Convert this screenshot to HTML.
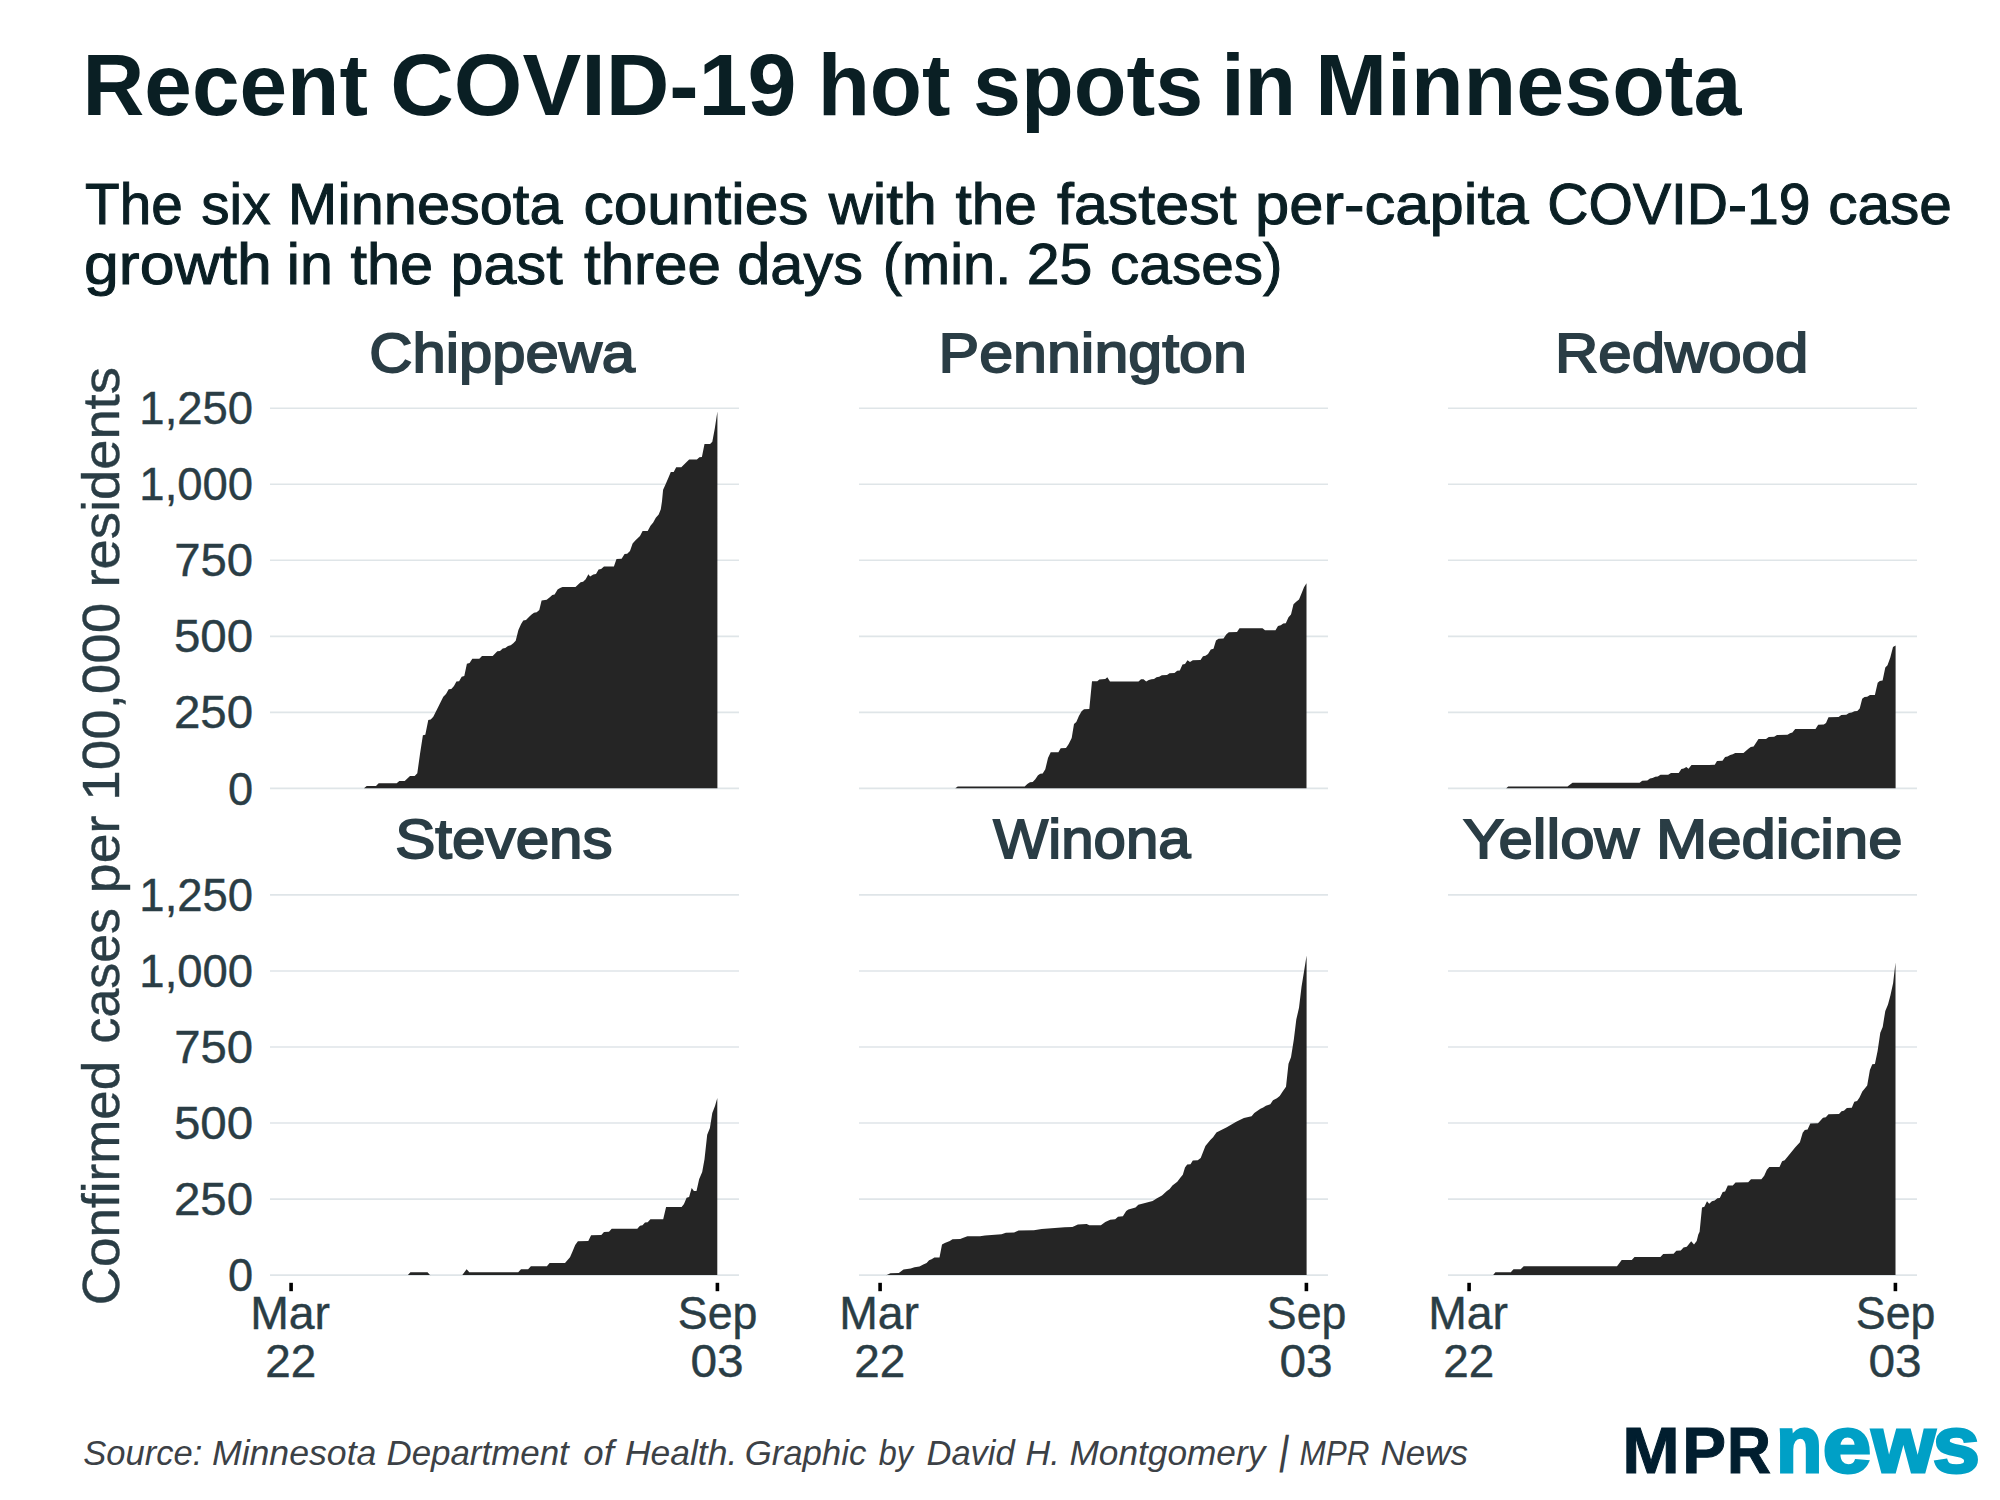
<!DOCTYPE html>
<html lang="en"><head><meta charset="utf-8"><title>Recent COVID-19 hot spots in Minnesota</title>
<style>html,body{margin:0;padding:0;background:#fff}svg{display:block}text{font-family:"Liberation Sans", sans-serif}</style></head><body>
<svg width="2000" height="1500" viewBox="0 0 2000 1500">
<rect width="2000" height="1500" fill="#fff"/>
<line x1="270" x2="739" y1="788.40" y2="788.40" stroke="#dfe5e8" stroke-width="1.6"/>
<line x1="270" x2="739" y1="712.37" y2="712.37" stroke="#dfe5e8" stroke-width="1.6"/>
<line x1="270" x2="739" y1="636.34" y2="636.34" stroke="#dfe5e8" stroke-width="1.6"/>
<line x1="270" x2="739" y1="560.31" y2="560.31" stroke="#dfe5e8" stroke-width="1.6"/>
<line x1="270" x2="739" y1="484.28" y2="484.28" stroke="#dfe5e8" stroke-width="1.6"/>
<line x1="270" x2="739" y1="408.25" y2="408.25" stroke="#dfe5e8" stroke-width="1.6"/>
<path d="M364.0,788.3 L364.0,788.3 L366.7,786.0 L376.0,786.0 L378.7,783.3 L396.7,783.3 L399.3,780.9 L404.7,780.9 L410.0,776.0 L414.7,776.0 L417.3,773.3 L420.0,754.0 L422.9,735.3 L425.3,734.7 L428.3,720.0 L430.7,719.6 L433.3,716.7 L438.7,706.0 L443.3,696.7 L446.0,694.0 L448.7,689.3 L451.3,688.9 L454.0,686.0 L456.4,681.6 L459.1,681.3 L461.7,676.7 L464.3,676.0 L466.9,663.7 L469.6,663.1 L472.3,658.7 L479.3,658.7 L482.0,656.0 L492.7,656.0 L497.3,651.3 L500.0,650.9 L502.7,648.4 L505.3,648.0 L508.0,646.0 L510.7,645.3 L513.3,643.3 L515.7,640.7 L518.4,630.0 L521.1,624.0 L523.3,620.4 L526.0,620.0 L528.7,617.3 L531.3,614.7 L534.0,612.7 L536.7,612.3 L539.3,610.0 L541.6,600.4 L546.7,599.7 L549.8,597.2 L552.3,595.0 L554.6,594.6 L557.6,589.6 L560.1,588.1 L562.5,587.0 L575.5,587.0 L580.6,582.3 L583.1,581.8 L585.7,579.2 L588.4,574.2 L590.1,576.4 L593.3,574.5 L596.0,574.0 L598.6,569.4 L601.1,568.9 L604.0,566.4 L613.9,566.4 L616.5,559.1 L621.6,558.8 L624.6,554.0 L627.2,553.7 L630.0,551.0 L632.6,543.4 L635.3,540.5 L640.0,536.1 L642.6,530.9 L647.7,530.9 L650.5,525.8 L653.2,522.4 L655.8,517.7 L658.7,514.4 L660.8,509.2 L662.0,501.2 L663.1,489.7 L665.6,484.3 L668.3,478.1 L670.8,472.1 L673.7,471.9 L676.2,467.2 L681.3,467.2 L686.6,461.9 L689.2,459.4 L696.9,459.4 L699.4,457.2 L701.9,456.9 L704.5,444.0 L710.1,444.0 L712.3,441.8 L714.8,428.6 L717.4,411.4 L717.4,788.3 Z" fill="#252525"/>
<line x1="859" x2="1328" y1="788.40" y2="788.40" stroke="#dfe5e8" stroke-width="1.6"/>
<line x1="859" x2="1328" y1="712.37" y2="712.37" stroke="#dfe5e8" stroke-width="1.6"/>
<line x1="859" x2="1328" y1="636.34" y2="636.34" stroke="#dfe5e8" stroke-width="1.6"/>
<line x1="859" x2="1328" y1="560.31" y2="560.31" stroke="#dfe5e8" stroke-width="1.6"/>
<line x1="859" x2="1328" y1="484.28" y2="484.28" stroke="#dfe5e8" stroke-width="1.6"/>
<line x1="859" x2="1328" y1="408.25" y2="408.25" stroke="#dfe5e8" stroke-width="1.6"/>
<path d="M955.3,788.3 L955.3,788.3 L957.7,786.4 L1024.7,786.4 L1027.3,784.0 L1030.0,782.3 L1032.7,782.0 L1035.3,779.3 L1038.0,775.3 L1040.3,773.7 L1042.7,773.5 L1045.3,769.3 L1048.0,758.0 L1050.7,752.3 L1058.4,752.3 L1060.7,748.3 L1066.0,748.0 L1068.7,744.0 L1071.7,738.0 L1074.0,724.0 L1076.3,722.0 L1078.9,716.0 L1081.6,711.3 L1084.0,709.3 L1089.3,709.1 L1092.0,681.3 L1097.3,681.3 L1099.3,679.6 L1105.3,679.1 L1107.3,677.3 L1110.0,681.6 L1138.7,681.6 L1138.5,681.5 L1141.0,679.2 L1143.5,679.2 L1146.2,681.5 L1148.8,680.0 L1151.5,679.2 L1154.0,679.0 L1156.5,677.2 L1159.2,676.8 L1161.8,675.2 L1167.0,675.0 L1169.5,673.2 L1174.5,673.0 L1177.2,670.8 L1179.8,670.5 L1182.5,664.5 L1185.0,664.0 L1187.5,660.2 L1190.0,662.0 L1192.8,660.2 L1200.5,660.0 L1203.0,656.2 L1205.5,655.8 L1208.0,654.0 L1210.8,649.5 L1213.5,648.8 L1216.0,640.5 L1218.5,638.8 L1223.5,638.6 L1226.2,634.5 L1228.8,632.2 L1237.0,632.0 L1239.5,628.2 L1262.5,628.2 L1265.0,630.2 L1275.5,630.2 L1278.0,626.0 L1280.8,625.2 L1283.2,623.5 L1285.8,623.2 L1288.5,617.2 L1291.0,614.5 L1293.5,604.2 L1296.2,601.8 L1299.0,599.5 L1301.5,593.5 L1304.0,587.2 L1306.5,583.2 L1306.5,788.3 Z" fill="#252525"/>
<line x1="1448" x2="1917" y1="788.40" y2="788.40" stroke="#dfe5e8" stroke-width="1.6"/>
<line x1="1448" x2="1917" y1="712.37" y2="712.37" stroke="#dfe5e8" stroke-width="1.6"/>
<line x1="1448" x2="1917" y1="636.34" y2="636.34" stroke="#dfe5e8" stroke-width="1.6"/>
<line x1="1448" x2="1917" y1="560.31" y2="560.31" stroke="#dfe5e8" stroke-width="1.6"/>
<line x1="1448" x2="1917" y1="484.28" y2="484.28" stroke="#dfe5e8" stroke-width="1.6"/>
<line x1="1448" x2="1917" y1="408.25" y2="408.25" stroke="#dfe5e8" stroke-width="1.6"/>
<path d="M1506.0,788.3 L1506.0,788.5 L1508.2,786.6 L1567.5,786.6 L1572.5,782.8 L1639.6,782.8 L1642.3,780.8 L1647.3,780.6 L1650.0,778.6 L1652.6,778.0 L1655.2,776.7 L1657.8,776.4 L1660.5,774.8 L1668.2,774.8 L1671.0,772.9 L1678.7,772.9 L1681.4,768.9 L1683.8,768.5 L1686.3,767.0 L1688.5,768.7 L1691.5,764.9 L1708.9,764.9 L1714.8,764.8 L1717.0,760.9 L1722.5,760.7 L1725.1,757.0 L1727.5,756.5 L1730.2,754.9 L1732.8,754.3 L1735.2,752.9 L1743.5,752.9 L1748.4,748.8 L1750.8,747.1 L1753.6,746.6 L1758.5,739.1 L1766.0,738.9 L1768.8,736.9 L1774.2,736.7 L1777.0,735.0 L1787.5,734.8 L1790.0,733.2 L1792.4,732.6 L1795.2,729.0 L1815.5,729.0 L1818.2,724.8 L1823.8,724.6 L1826.0,723.0 L1828.5,717.2 L1838.6,717.1 L1841.3,715.0 L1846.3,714.7 L1849.0,713.0 L1851.8,712.5 L1854.5,711.2 L1857.3,710.9 L1859.7,708.6 L1862.2,698.8 L1864.5,697.1 L1867.2,696.7 L1870.0,695.1 L1874.9,694.9 L1877.7,682.8 L1879.8,681.1 L1882.6,680.6 L1885.3,667.4 L1887.5,665.2 L1890.3,657.5 L1893.0,647.0 L1895.6,645.4 L1895.6,788.3 Z" fill="#252525"/>
<line x1="270" x2="739" y1="1275.15" y2="1275.15" stroke="#dfe5e8" stroke-width="1.6"/>
<line x1="270" x2="739" y1="1199.10" y2="1199.10" stroke="#dfe5e8" stroke-width="1.6"/>
<line x1="270" x2="739" y1="1123.05" y2="1123.05" stroke="#dfe5e8" stroke-width="1.6"/>
<line x1="270" x2="739" y1="1047.00" y2="1047.00" stroke="#dfe5e8" stroke-width="1.6"/>
<line x1="270" x2="739" y1="970.95" y2="970.95" stroke="#dfe5e8" stroke-width="1.6"/>
<line x1="270" x2="739" y1="894.90" y2="894.90" stroke="#dfe5e8" stroke-width="1.6"/>
<path d="M407.7,1275.0 L407.7,1275.2 L410.4,1272.2 L427.5,1272.2 L430.2,1275.2 L430.2,1275.0 ZM462.1,1275.0 L462.1,1275.2 L466.6,1269.3 L469.3,1272.2 L518.2,1272.2 L521.0,1269.3 L528.1,1269.3 L530.9,1266.3 L546.9,1266.3 L549.6,1263.0 L565.0,1263.0 L570.0,1257.3 L572.5,1251.5 L575.2,1244.9 L577.9,1241.3 L588.3,1241.0 L591.1,1235.3 L601.3,1235.0 L604.0,1232.0 L609.0,1231.7 L611.7,1228.7 L637.3,1228.7 L640.0,1225.7 L642.5,1225.2 L645.0,1222.6 L647.7,1222.3 L650.4,1219.3 L663.2,1219.3 L666.1,1207.0 L681.6,1207.0 L684.0,1203.9 L686.6,1197.7 L689.1,1197.0 L691.7,1188.1 L693.9,1191.1 L696.5,1191.1 L699.2,1179.1 L702.2,1172.1 L704.5,1159.3 L707.2,1134.8 L709.9,1127.9 L712.3,1112.9 L715.0,1106.0 L717.3,1098.0 L717.3,1275.0 Z" fill="#252525"/>
<line x1="291.1" x2="291.1" y1="1282.8" y2="1291.2" stroke="#000" stroke-width="3.6"/>
<line x1="717.4" x2="717.4" y1="1282.8" y2="1291.2" stroke="#000" stroke-width="3.6"/>
<line x1="859" x2="1328" y1="1275.15" y2="1275.15" stroke="#dfe5e8" stroke-width="1.6"/>
<line x1="859" x2="1328" y1="1199.10" y2="1199.10" stroke="#dfe5e8" stroke-width="1.6"/>
<line x1="859" x2="1328" y1="1123.05" y2="1123.05" stroke="#dfe5e8" stroke-width="1.6"/>
<line x1="859" x2="1328" y1="1047.00" y2="1047.00" stroke="#dfe5e8" stroke-width="1.6"/>
<line x1="859" x2="1328" y1="970.95" y2="970.95" stroke="#dfe5e8" stroke-width="1.6"/>
<line x1="859" x2="1328" y1="894.90" y2="894.90" stroke="#dfe5e8" stroke-width="1.6"/>
<path d="M886.3,1275.0 L886.3,1275.2 L890.4,1273.3 L898.8,1273.0 L903.5,1269.5 L910.7,1268.4 L914.5,1267.2 L919.5,1266.6 L922.8,1264.8 L926.6,1263.1 L929.1,1260.3 L931.6,1259.2 L934.4,1257.4 L939.5,1257.4 L942.0,1244.6 L944.8,1243.1 L949.8,1241.1 L952.5,1239.2 L960.2,1238.9 L962.7,1238.1 L967.4,1236.2 L980.0,1236.2 L985.0,1235.4 L1001.5,1234.3 L1005.9,1232.8 L1014.1,1232.6 L1018.5,1230.4 L1033.9,1230.3 L1041.6,1229.0 L1064.7,1227.3 L1072.4,1227.1 L1077.9,1224.4 L1086.7,1224.0 L1089.3,1225.2 L1100.9,1225.2 L1105.3,1221.9 L1110.2,1219.7 L1115.2,1219.2 L1118.0,1216.7 L1122.9,1216.2 L1126.2,1210.9 L1128.4,1209.6 L1135.5,1207.6 L1138.3,1204.8 L1146.0,1202.7 L1152.6,1201.0 L1157.0,1198.2 L1162.0,1195.5 L1166.9,1191.1 L1169.7,1188.9 L1172.4,1185.6 L1177.3,1181.8 L1180.1,1177.9 L1182.8,1174.8 L1185.0,1167.5 L1187.2,1164.5 L1190.5,1164.2 L1192.8,1160.6 L1197.7,1160.3 L1200.7,1158.1 L1205.4,1146.0 L1210.3,1140.0 L1213.1,1137.2 L1216.4,1132.6 L1221.3,1130.0 L1226.8,1127.3 L1236.2,1121.8 L1243.9,1118.0 L1251.6,1116.3 L1254.3,1113.0 L1260.4,1108.8 L1263.2,1107.5 L1265.9,1105.8 L1270.3,1104.2 L1273.0,1100.3 L1276.9,1098.2 L1279.7,1096.0 L1283.0,1091.0 L1286.0,1086.7 L1288.5,1063.7 L1291.0,1057.3 L1293.8,1039.7 L1296.3,1019.5 L1299.0,1007.7 L1301.5,986.9 L1304.1,970.9 L1306.6,955.5 L1306.6,1275.0 Z" fill="#252525"/>
<line x1="880.1" x2="880.1" y1="1282.8" y2="1291.2" stroke="#000" stroke-width="3.6"/>
<line x1="1306.4" x2="1306.4" y1="1282.8" y2="1291.2" stroke="#000" stroke-width="3.6"/>
<line x1="1448" x2="1917" y1="1275.15" y2="1275.15" stroke="#dfe5e8" stroke-width="1.6"/>
<line x1="1448" x2="1917" y1="1199.10" y2="1199.10" stroke="#dfe5e8" stroke-width="1.6"/>
<line x1="1448" x2="1917" y1="1123.05" y2="1123.05" stroke="#dfe5e8" stroke-width="1.6"/>
<line x1="1448" x2="1917" y1="1047.00" y2="1047.00" stroke="#dfe5e8" stroke-width="1.6"/>
<line x1="1448" x2="1917" y1="970.95" y2="970.95" stroke="#dfe5e8" stroke-width="1.6"/>
<line x1="1448" x2="1917" y1="894.90" y2="894.90" stroke="#dfe5e8" stroke-width="1.6"/>
<path d="M1493.0,1275.0 L1493.0,1275.2 L1495.4,1272.2 L1510.8,1272.2 L1513.5,1269.2 L1520.7,1269.2 L1523.7,1266.2 L1617.0,1266.2 L1621.7,1260.1 L1631.8,1260.1 L1634.5,1257.0 L1660.4,1257.0 L1663.2,1254.0 L1673.6,1253.8 L1676.3,1250.7 L1680.8,1250.5 L1683.5,1247.5 L1686.8,1246.8 L1691.2,1241.3 L1694.0,1244.4 L1696.7,1241.1 L1698.3,1234.5 L1699.6,1231.8 L1702.0,1207.4 L1704.4,1206.7 L1707.0,1201.2 L1709.2,1203.8 L1711.9,1201.2 L1714.7,1200.5 L1717.4,1198.2 L1719.8,1197.9 L1722.7,1192.0 L1725.1,1191.4 L1727.8,1185.6 L1732.8,1185.4 L1735.5,1182.5 L1748.2,1182.3 L1751.0,1179.3 L1761.4,1179.2 L1764.2,1175.7 L1766.9,1169.7 L1769.3,1167.1 L1779.5,1166.9 L1782.1,1161.2 L1784.7,1160.3 L1790.0,1153.7 L1795.3,1147.3 L1799.9,1142.2 L1802.7,1132.8 L1804.8,1130.0 L1807.6,1129.5 L1810.3,1123.5 L1818.0,1123.2 L1823.0,1117.7 L1825.8,1117.2 L1828.5,1114.3 L1839.0,1114.1 L1841.5,1111.3 L1843.9,1110.8 L1846.9,1108.0 L1851.8,1107.8 L1854.3,1101.8 L1857.1,1100.9 L1859.5,1097.6 L1862.3,1091.5 L1864.8,1088.6 L1867.2,1085.6 L1869.9,1070.1 L1872.3,1064.3 L1874.9,1064.0 L1877.6,1050.9 L1880.3,1032.8 L1882.7,1026.9 L1885.3,1010.9 L1888.0,1004.5 L1890.4,995.5 L1893.1,983.2 L1895.5,962.4 L1895.5,1275.0 Z" fill="#252525"/>
<line x1="1469.1" x2="1469.1" y1="1282.8" y2="1291.2" stroke="#000" stroke-width="3.6"/>
<line x1="1895.4" x2="1895.4" y1="1282.8" y2="1291.2" stroke="#000" stroke-width="3.6"/>
<text y="115.40" font-size="87.21" fill="#0a1f24" font-weight="bold"><tspan x="82.45" textLength="285.47" lengthAdjust="spacingAndGlyphs">Recent</tspan> <tspan x="390.25" textLength="406.35" lengthAdjust="spacingAndGlyphs">COVID-19</tspan> <tspan x="817.66" textLength="132.75" lengthAdjust="spacingAndGlyphs">hot</tspan> <tspan x="972.90" textLength="230.30" lengthAdjust="spacingAndGlyphs">spots</tspan> <tspan x="1221.13" textLength="74.95" lengthAdjust="spacingAndGlyphs">in</tspan> <tspan x="1315.21" textLength="426.24" lengthAdjust="spacingAndGlyphs">Minnesota</tspan></text>
<text y="224.30" font-size="57.56" fill="#0a1f24" stroke="#0a1f24" stroke-width="1.0"><tspan x="85.11" textLength="97.68" lengthAdjust="spacingAndGlyphs">The</tspan> <tspan x="201.32" textLength="69.18" lengthAdjust="spacingAndGlyphs">six</tspan> <tspan x="287.85" textLength="274.67" lengthAdjust="spacingAndGlyphs">Minnesota</tspan> <tspan x="583.61" textLength="224.77" lengthAdjust="spacingAndGlyphs">counties</tspan> <tspan x="828.85" textLength="108.06" lengthAdjust="spacingAndGlyphs">with</tspan> <tspan x="955.50" textLength="81.37" lengthAdjust="spacingAndGlyphs">the</tspan> <tspan x="1057.00" textLength="179.69" lengthAdjust="spacingAndGlyphs">fastest</tspan> <tspan x="1255.05" textLength="273.66" lengthAdjust="spacingAndGlyphs">per-capita</tspan> <tspan x="1547.32" textLength="263.29" lengthAdjust="spacingAndGlyphs">COVID-19</tspan> <tspan x="1828.17" textLength="123.70" lengthAdjust="spacingAndGlyphs">case</tspan></text>
<text y="283.50" font-size="57.56" fill="#0a1f24" stroke="#0a1f24" stroke-width="1.0"><tspan x="84.05" textLength="187.77" lengthAdjust="spacingAndGlyphs">growth</tspan> <tspan x="286.80" textLength="46.01" lengthAdjust="spacingAndGlyphs">in</tspan> <tspan x="350.50" textLength="82.71" lengthAdjust="spacingAndGlyphs">the</tspan> <tspan x="450.59" textLength="112.10" lengthAdjust="spacingAndGlyphs">past</tspan> <tspan x="584.00" textLength="136.93" lengthAdjust="spacingAndGlyphs">three</tspan> <tspan x="737.24" textLength="125.72" lengthAdjust="spacingAndGlyphs">days</tspan> <tspan x="882.79" textLength="128.43" lengthAdjust="spacingAndGlyphs">(min.</tspan> <tspan x="1026.73" textLength="65.66" lengthAdjust="spacingAndGlyphs">25</tspan> <tspan x="1110.07" textLength="172.46" lengthAdjust="spacingAndGlyphs">cases)</tspan></text>
<text y="1465.00" font-size="34.45" fill="#3c4146" font-style="italic"><tspan x="83.26" textLength="119.00" lengthAdjust="spacingAndGlyphs">Source:</tspan> <tspan x="211.94" textLength="164.44" lengthAdjust="spacingAndGlyphs">Minnesota</tspan> <tspan x="386.45" textLength="182.34" lengthAdjust="spacingAndGlyphs">Department</tspan> <tspan x="583.35" textLength="30.58" lengthAdjust="spacingAndGlyphs">of</tspan> <tspan x="624.95" textLength="112.37" lengthAdjust="spacingAndGlyphs">Health.</tspan> <tspan x="744.67" textLength="121.63" lengthAdjust="spacingAndGlyphs">Graphic</tspan> <tspan x="878.80" textLength="34.18" lengthAdjust="spacingAndGlyphs">by</tspan> <tspan x="926.46" textLength="88.24" lengthAdjust="spacingAndGlyphs">David</tspan> <tspan x="1025.47" textLength="34.19" lengthAdjust="spacingAndGlyphs">H.</tspan> <tspan x="1069.45" textLength="195.85" lengthAdjust="spacingAndGlyphs">Montgomery</tspan></text>
<text transform="translate(1282.6,1464.2) skewX(-9.4)" font-size="40.5" fill="#3c4146" text-anchor="middle">|</text>
<text y="1465.00" font-size="34.45" fill="#3c4146" font-style="italic"><tspan x="1299.51" textLength="69.89" lengthAdjust="spacingAndGlyphs">MPR</tspan> <tspan x="1380.45" textLength="87.59" lengthAdjust="spacingAndGlyphs">News</tspan></text>
<text y="371.80" font-size="55.52" fill="#2a3d45" stroke="#2a3d45" stroke-width="1.8"><tspan x="369.30" textLength="265.72" lengthAdjust="spacingAndGlyphs">Chippewa</tspan> <tspan x="938.54" textLength="308.38" lengthAdjust="spacingAndGlyphs">Pennington</tspan> <tspan x="1555.02" textLength="253.25" lengthAdjust="spacingAndGlyphs">Redwood</tspan></text>
<text y="858.20" font-size="55.52" fill="#2a3d45" stroke="#2a3d45" stroke-width="1.8"><tspan x="395.22" textLength="217.46" lengthAdjust="spacingAndGlyphs">Stevens</tspan> <tspan x="993.30" textLength="197.33" lengthAdjust="spacingAndGlyphs">Winona</tspan> <tspan x="1462.94" textLength="176.21" lengthAdjust="spacingAndGlyphs">Yellow</tspan> <tspan x="1656.09" textLength="246.30" lengthAdjust="spacingAndGlyphs">Medicine</tspan></text>
<text transform="translate(119.30,1302.9) rotate(-90)" font-size="52.47" fill="#2a3d45" stroke="#2a3d45" stroke-width="0.4"><tspan x="-2.28" textLength="244.46" lengthAdjust="spacingAndGlyphs">Confirmed</tspan> <tspan x="259.48" textLength="135.34" lengthAdjust="spacingAndGlyphs">cases</tspan> <tspan x="409.75" textLength="77.51" lengthAdjust="spacingAndGlyphs">per</tspan> <tspan x="502.07" textLength="198.19" lengthAdjust="spacingAndGlyphs">100,000</tspan> <tspan x="715.30" textLength="220.49" lengthAdjust="spacingAndGlyphs">residents</tspan></text>
<text y="804.50" font-size="46.66" fill="#2a3d45" stroke="#2a3d45" stroke-width="0.4"><tspan x="227.99" textLength="25.14" lengthAdjust="spacingAndGlyphs">0</tspan></text>
<text y="728.47" font-size="46.66" fill="#2a3d45" stroke="#2a3d45" stroke-width="0.4"><tspan x="173.97" textLength="79.21" lengthAdjust="spacingAndGlyphs">250</tspan></text>
<text y="652.44" font-size="46.66" fill="#2a3d45" stroke="#2a3d45" stroke-width="0.4"><tspan x="173.92" textLength="79.27" lengthAdjust="spacingAndGlyphs">500</tspan></text>
<text y="576.41" font-size="46.66" fill="#2a3d45" stroke="#2a3d45" stroke-width="0.4"><tspan x="174.18" textLength="79.00" lengthAdjust="spacingAndGlyphs">750</tspan></text>
<text y="500.38" font-size="46.66" fill="#2a3d45" stroke="#2a3d45" stroke-width="0.4"><tspan x="139.36" textLength="113.77" lengthAdjust="spacingAndGlyphs">1,000</tspan></text>
<text y="424.35" font-size="46.66" fill="#2a3d45" stroke="#2a3d45" stroke-width="0.4"><tspan x="139.36" textLength="113.77" lengthAdjust="spacingAndGlyphs">1,250</tspan></text>
<text y="1291.25" font-size="46.66" fill="#2a3d45" stroke="#2a3d45" stroke-width="0.4"><tspan x="227.99" textLength="25.14" lengthAdjust="spacingAndGlyphs">0</tspan></text>
<text y="1215.20" font-size="46.66" fill="#2a3d45" stroke="#2a3d45" stroke-width="0.4"><tspan x="173.97" textLength="79.21" lengthAdjust="spacingAndGlyphs">250</tspan></text>
<text y="1139.15" font-size="46.66" fill="#2a3d45" stroke="#2a3d45" stroke-width="0.4"><tspan x="173.92" textLength="79.27" lengthAdjust="spacingAndGlyphs">500</tspan></text>
<text y="1063.10" font-size="46.66" fill="#2a3d45" stroke="#2a3d45" stroke-width="0.4"><tspan x="174.18" textLength="79.00" lengthAdjust="spacingAndGlyphs">750</tspan></text>
<text y="987.05" font-size="46.66" fill="#2a3d45" stroke="#2a3d45" stroke-width="0.4"><tspan x="139.36" textLength="113.77" lengthAdjust="spacingAndGlyphs">1,000</tspan></text>
<text y="911.00" font-size="46.66" fill="#2a3d45" stroke="#2a3d45" stroke-width="0.4"><tspan x="139.36" textLength="113.77" lengthAdjust="spacingAndGlyphs">1,250</tspan></text>
<text y="1328.60" font-size="46.66" fill="#2a3d45" stroke="#2a3d45" stroke-width="0.4"><tspan x="250.18" textLength="79.85" lengthAdjust="spacingAndGlyphs">Mar</tspan></text>
<text y="1376.60" font-size="46.66" fill="#2a3d45" stroke="#2a3d45" stroke-width="0.4"><tspan x="265.25" textLength="51.01" lengthAdjust="spacingAndGlyphs">22</tspan></text>
<text y="1328.60" font-size="46.66" fill="#2a3d45" stroke="#2a3d45" stroke-width="0.4"><tspan x="677.80" textLength="79.61" lengthAdjust="spacingAndGlyphs">Sep</tspan></text>
<text y="1376.60" font-size="46.66" fill="#2a3d45" stroke="#2a3d45" stroke-width="0.4"><tspan x="690.50" textLength="53.24" lengthAdjust="spacingAndGlyphs">03</tspan></text>
<text y="1328.60" font-size="46.66" fill="#2a3d45" stroke="#2a3d45" stroke-width="0.4"><tspan x="839.18" textLength="79.85" lengthAdjust="spacingAndGlyphs">Mar</tspan></text>
<text y="1376.60" font-size="46.66" fill="#2a3d45" stroke="#2a3d45" stroke-width="0.4"><tspan x="854.25" textLength="51.01" lengthAdjust="spacingAndGlyphs">22</tspan></text>
<text y="1328.60" font-size="46.66" fill="#2a3d45" stroke="#2a3d45" stroke-width="0.4"><tspan x="1266.80" textLength="79.61" lengthAdjust="spacingAndGlyphs">Sep</tspan></text>
<text y="1376.60" font-size="46.66" fill="#2a3d45" stroke="#2a3d45" stroke-width="0.4"><tspan x="1279.50" textLength="53.24" lengthAdjust="spacingAndGlyphs">03</tspan></text>
<text y="1328.60" font-size="46.66" fill="#2a3d45" stroke="#2a3d45" stroke-width="0.4"><tspan x="1428.18" textLength="79.85" lengthAdjust="spacingAndGlyphs">Mar</tspan></text>
<text y="1376.60" font-size="46.66" fill="#2a3d45" stroke="#2a3d45" stroke-width="0.4"><tspan x="1443.25" textLength="51.01" lengthAdjust="spacingAndGlyphs">22</tspan></text>
<text y="1328.60" font-size="46.66" fill="#2a3d45" stroke="#2a3d45" stroke-width="0.4"><tspan x="1855.80" textLength="79.61" lengthAdjust="spacingAndGlyphs">Sep</tspan></text>
<text y="1376.60" font-size="46.66" fill="#2a3d45" stroke="#2a3d45" stroke-width="0.4"><tspan x="1868.50" textLength="53.24" lengthAdjust="spacingAndGlyphs">03</tspan></text>
<text y="1472.8" font-size="64.4" font-weight="bold" fill="#011e2f" stroke="#011e2f" stroke-width="1.0"><tspan x="1622.39" textLength="57.48" lengthAdjust="spacingAndGlyphs">M</tspan><tspan x="1682.39" textLength="43.84" lengthAdjust="spacingAndGlyphs">P</tspan><tspan x="1727.00" textLength="43.96" lengthAdjust="spacingAndGlyphs">R</tspan></text>
<text y="1472.1" font-size="79.0" font-weight="bold" fill="#00a0c6" stroke="#00a0c6" stroke-width="3.0"><tspan x="1776.20" textLength="45.94" lengthAdjust="spacingAndGlyphs">n</tspan><tspan x="1822.78" textLength="48.39" lengthAdjust="spacingAndGlyphs">e</tspan><tspan x="1871.77" textLength="63.45" lengthAdjust="spacingAndGlyphs">w</tspan><tspan x="1932.85" textLength="47.08" lengthAdjust="spacingAndGlyphs">s</tspan></text>
</svg></body></html>
